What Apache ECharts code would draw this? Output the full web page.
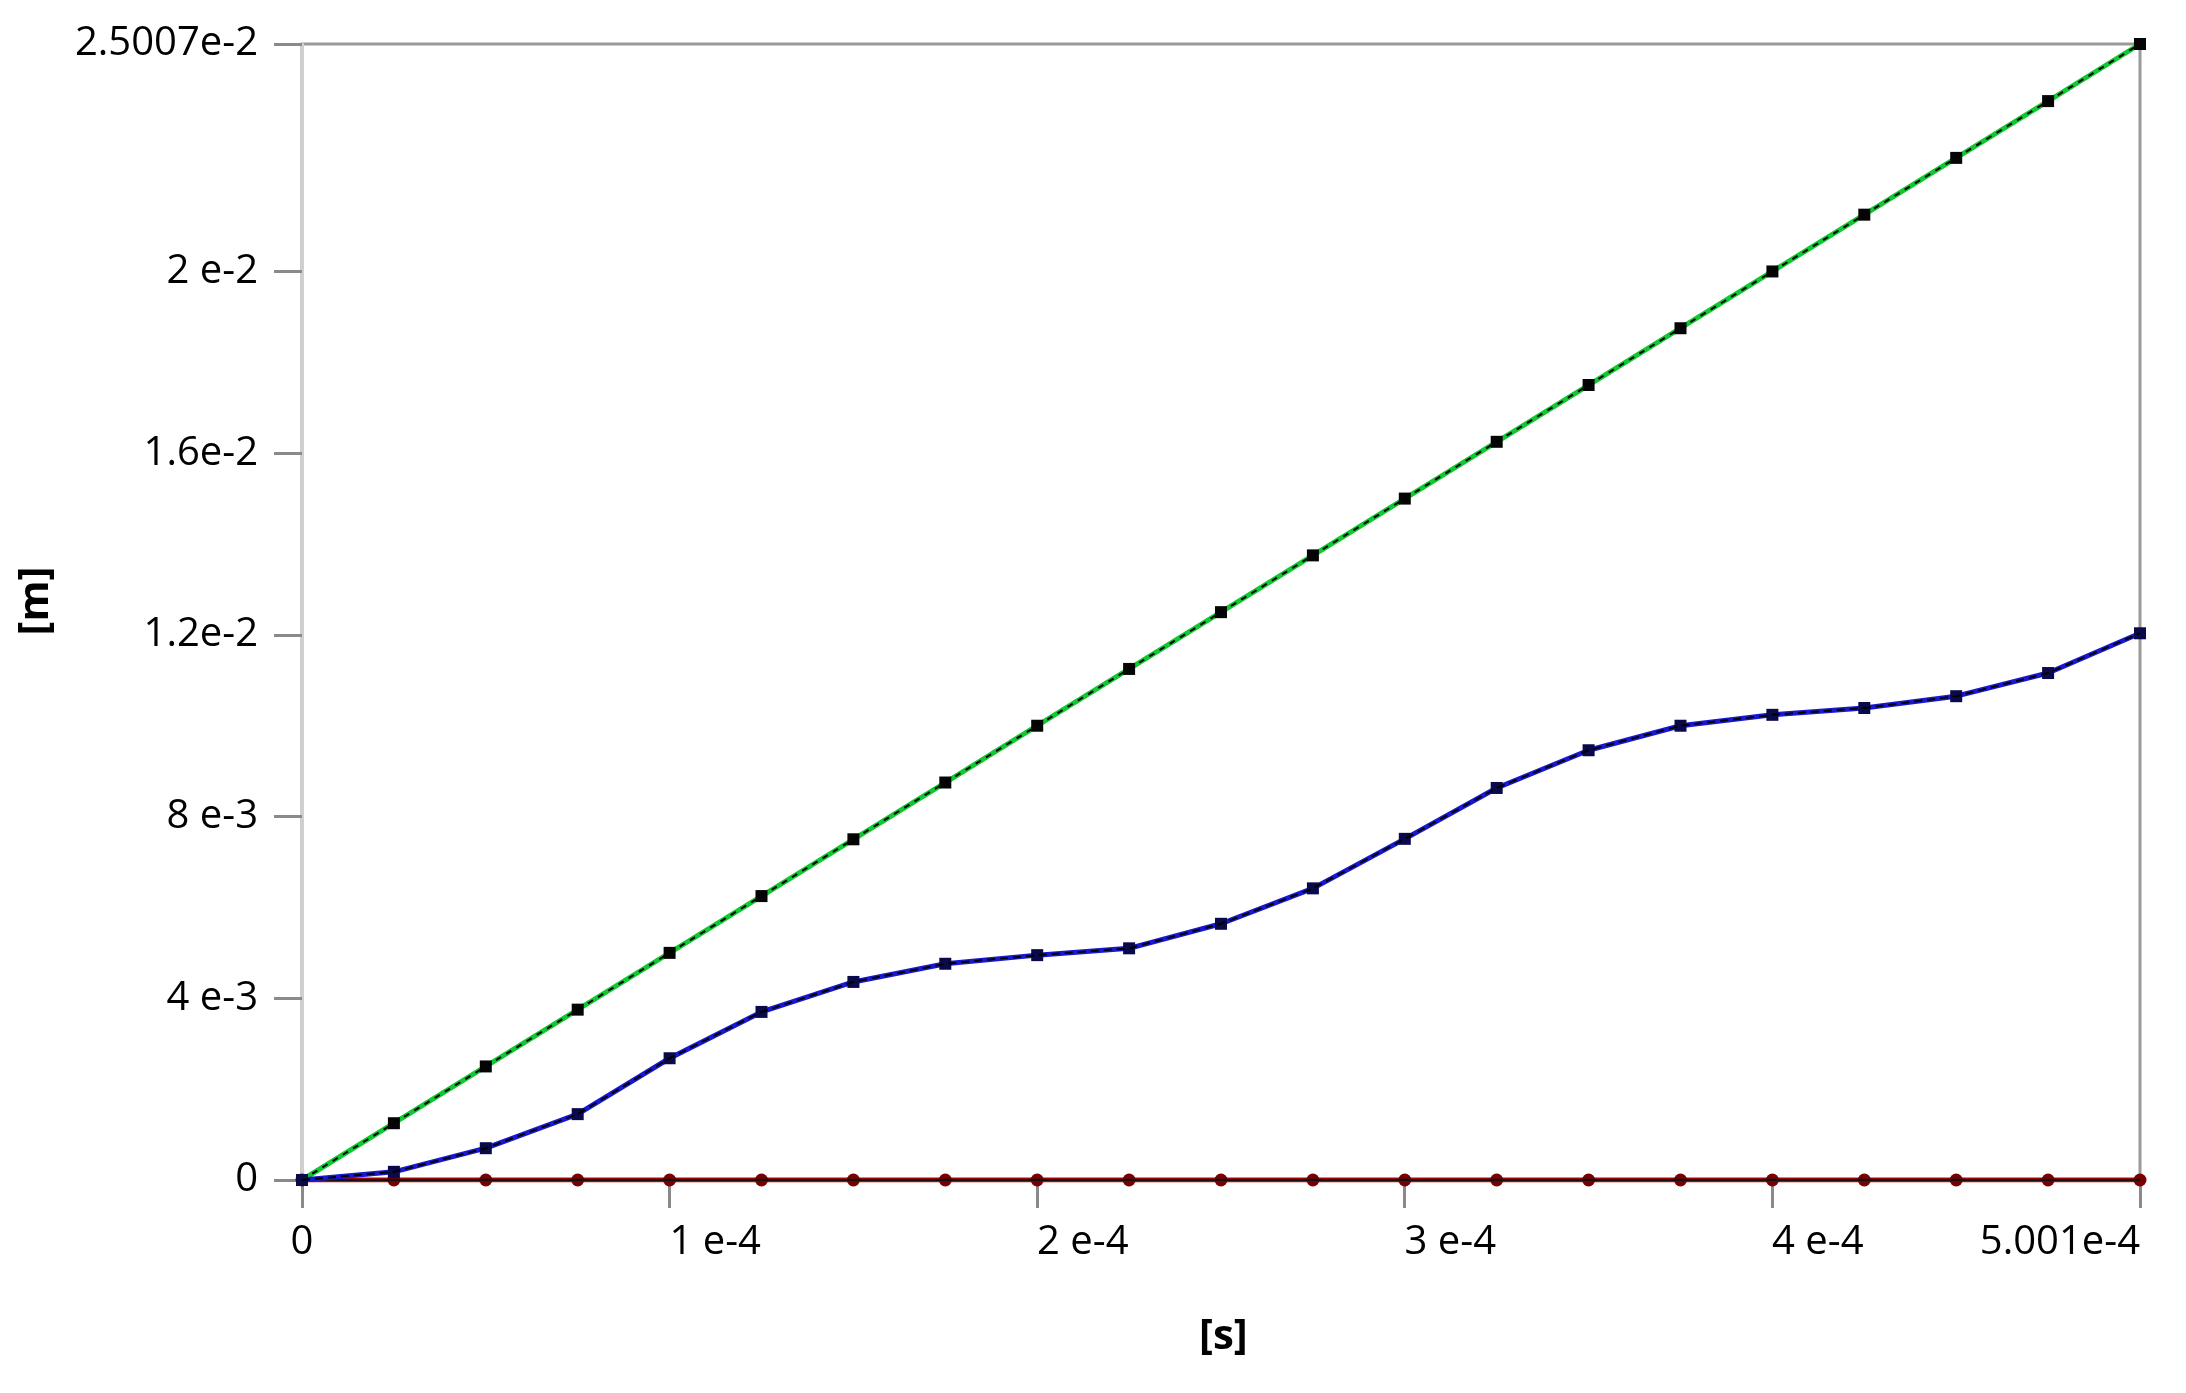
<!DOCTYPE html>
<html>
<head>
<meta charset="utf-8">
<script src="https://cdn.jsdelivr.net/npm/echarts@6/dist/echarts.min.js"></script>
<style>
html,body{margin:0;padding:0;background:#fff;}
#chart{width:2186px;height:1393px;}
</style>
</head>
<body>
<div id="chart"></div>
<script>
// ---- data ----
const times = [0, 2.5005e-5, 5.001e-5, 7.5015e-5, 1.0002e-4, 1.25025e-4, 1.5003e-4, 1.75035e-4, 2.0004e-4, 2.25045e-4, 2.5005e-4, 2.75055e-4, 3.0006e-4, 3.25065e-4, 3.5007e-4, 3.75075e-4, 4.0008e-4, 4.25085e-4, 4.5009e-4, 4.75095e-4, 5.001e-4];
const greenValues = [0, 0.00125, 0.0025, 0.00375, 0.0050, 0.00625, 0.0075, 0.00875, 0.0100, 0.01125, 0.0125, 0.01375, 0.0150, 0.01625, 0.0175, 0.01875, 0.0200, 0.02125, 0.0225, 0.02375, 0.025007];
const blueValues = [0, 1.8e-4, 7.0e-4, 1.45e-3, 2.68e-3, 3.70e-3, 4.36e-3, 4.76e-3, 4.95e-3, 5.10e-3, 5.64e-3, 6.42e-3, 7.51e-3, 8.63e-3, 9.46e-3, 1.0e-2, 1.024e-2, 1.039e-2, 1.065e-2, 1.116e-2, 1.2035e-2];
const redValues = [0, 0, 0, 0, 0, 0, 0, 0, 0, 0, 0, 0, 0, 0, 0, 0, 0, 0, 0, 0, 0];
const yTickValues = [0, 0.004, 0.008, 0.012, 0.016, 0.02, 0.025007];
const yTickLabels = ['0', '4 e-3', '8 e-3', '1.2e-2', '1.6e-2', '2 e-2', '2.5007e-2'];
const xTickValues = [0, 1e-4, 2e-4, 3e-4, 4e-4, 5.001e-4];
const xTickLabels = ['0', '1 e-4', '2 e-4', '3 e-4', '4 e-4', '5.001e-4'];
const xTitle = '[s]';
const yTitle = '[m]';

function labelFor(vals, labels, v) {
  let best = 0, d = Infinity;
  vals.forEach((t, i) => { const dd = Math.abs(t - v); if (dd < d) { d = dd; best = i; } });
  return d < 1e-9 ? labels[best] : '';
}
const pairs = vals => times.map((t, i) => [t, vals[i]]);

const FONT = 'Open Sans';
const chart = echarts.init(document.getElementById('chart'), null, {renderer: 'canvas'});
chart.setOption({
  animation: false,
  backgroundColor: '#ffffff',
  grid: {left: 302, right: 46, top: 44, bottom: 213, show: true, borderColor: '#9a9a9a', borderWidth: 3, backgroundColor: 'transparent'},
  xAxis: {
    type: 'value', min: 0, max: 5.001e-4,
    splitLine: {show: false},
    axisLine: {show: true, lineStyle: {color: '#9a9a9a', width: 3}},
    axisTick: {show: true, length: 28, inside: false, customValues: xTickValues, lineStyle: {color: '#8a8a8a', width: 3}},
    axisLabel: {
      customValues: xTickValues,
      formatter: v => labelFor(xTickValues, xTickLabels, v),
      fontFamily: FONT, fontSize: 40, color: '#000', margin: 43,
      align: 'left', alignMinLabel: 'center', alignMaxLabel: 'right'
    }
  },
  yAxis: {
    type: 'value', min: 0, max: 0.025007,
    splitLine: {show: false},
    axisLine: {show: true, lineStyle: {color: '#d0d0d0', width: 3}},
    axisTick: {show: true, length: 28, inside: false, customValues: yTickValues, lineStyle: {color: '#8a8a8a', width: 3}},
    axisLabel: {
      customValues: yTickValues,
      formatter: v => labelFor(yTickValues, yTickLabels, v),
      fontFamily: FONT, fontSize: 40, color: '#000', margin: 44,
      padding: [12, 0, 0, 0]
    }
  },
  graphic: [
    {type: 'text', left: 1227 - 28, top: 1316, style: {text: xTitle, font: 'bold 42px "Open Sans"', fill: '#000'}},
    {type: 'text', x: 36, y: 601, rotation: Math.PI / 2, style: {text: yTitle, font: 'bold 42px "Open Sans"', fill: '#000', align: 'center', verticalAlign: 'middle'}}
  ],
  series: [
    {name: 'Red', type: 'line', data: pairs(redValues), symbol: 'circle', symbolSize: 13,
     itemStyle: {color: '#7a0000'}, lineStyle: {color: '#d00000', width: 5}, z: 2},
    {name: 'Red core', type: 'line', data: pairs(redValues), symbol: 'none', silent: true,
     lineStyle: {color: '#111', width: 2.5}, z: 3},
    {name: 'Green', type: 'line', data: pairs(greenValues), symbol: 'rect', symbolSize: 12,
     itemStyle: {color: '#050505'}, lineStyle: {color: '#10c830', width: 5}, z: 4},
    {name: 'Green core', type: 'line', data: pairs(greenValues), symbol: 'none', silent: true,
     lineStyle: {color: '#000', width: 2, type: [6, 6]}, z: 5},
    {name: 'Blue', type: 'line', data: pairs(blueValues), symbol: 'rect', symbolSize: 12,
     itemStyle: {color: '#0a0a4a'}, lineStyle: {color: '#1818d0', width: 5}, z: 6},
    {name: 'Blue core', type: 'line', data: pairs(blueValues), symbol: 'none', silent: true,
     lineStyle: {color: '#000', width: 2, type: [8, 5]}, z: 7}
  ]
});
</script>
</body>
</html>
